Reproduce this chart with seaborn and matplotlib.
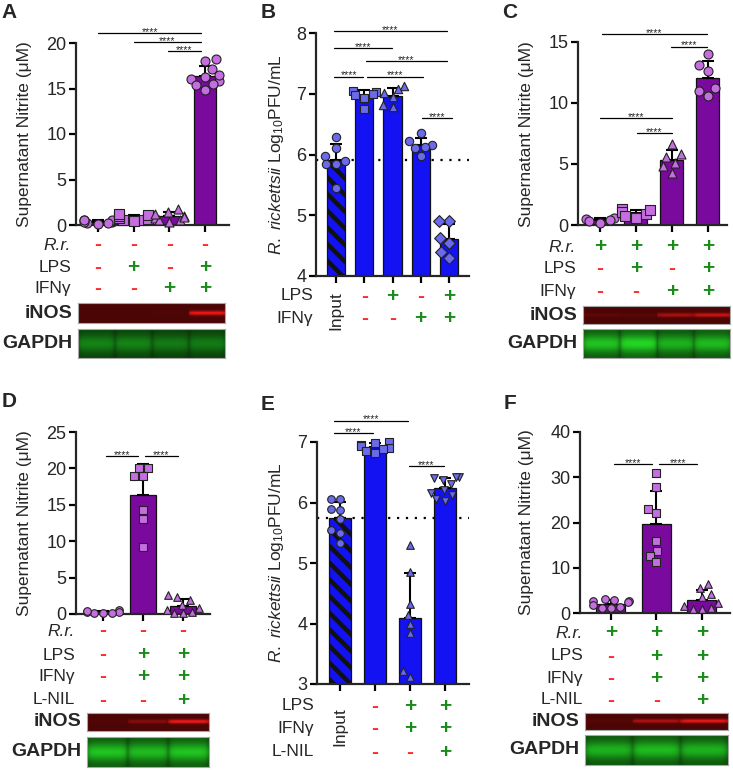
import numpy as np
import pandas as pd
import matplotlib
matplotlib.use('Agg')
import matplotlib.pyplot as plt
import matplotlib.transforms as mtransforms
import seaborn as sns

W, H = 733, 770

sns.set_style('ticks')
plt.rcParams['font.family'] = ['Liberation Sans', 'DejaVu Sans']
plt.rcParams['mathtext.fontset'] = 'custom'
plt.rcParams['mathtext.rm'] = 'Liberation Sans'
plt.rcParams['mathtext.it'] = 'Liberation Sans:italic'
plt.rcParams['hatch.linewidth'] = 3.2
plt.rcParams['axes.linewidth'] = 1.6

PURPLE = '#7a0a9e'
PURPLE_PT = '#c46ee0'
BLUE = '#1212f2'
BLUE_PT = '#6a6aea'
GREEN = '#1a8c1a'
RED = '#ff2a2a'

        # values

a_vals = [[0.2, 0.3, 0.5, 0.4, 0.6, 0.3, 0.1, 0.5, 0.2],
          [0.4, 0.6, 0.8, 1.0, 1.2, 0.9, 0.5, 0.7, 1.1],
          [0.3, 0.6, 1.0, 1.4, 1.8, 0.8, 0.5, 1.2, 0.9],
          [18.2, 18.0, 17.1, 16.3, 16.0, 15.8, 15.5, 15.4, 14.8, 16.5]]
a_marks = ['o', 's', '^', 'o']
a_rows = [('R.r.', '----'), ('LPS', '-+-+'), ('IFNγ', '--++')]
a_inos = [0.0, 0.0, 0.02, 0.95]
a_gapdh = [0.55, 0.55, 0.5, 0.5]
a_sig = [(0, 2.9, 21.1), (1, 2.9, 20.1), (1.95, 2.9, 19.1)]

b_vals = [[6.28, 6.1, 5.98, 5.9, 5.85, 5.85, 5.45],
          [7.05, 7.03, 7.0, 6.98, 6.93, 6.75],
          [7.12, 7.08, 7.02, 6.95, 6.82, 6.78],
          [6.35, 6.22, 6.15, 6.12, 6.1, 5.97],
          [4.9, 4.9, 4.62, 4.55, 4.4, 4.3]]
b_marks = ['o', 's', '^', 'o', 'D']
b_rows = [('LPS', ' -+-+'), ('IFNγ', ' --++')]
b_sig = [(-0.07, 3.93, 8.03), (-0.07, 1.98, 7.75), (1.06, 3.93, 7.54),
         (-0.07, 0.96, 7.28), (1.1, 3.08, 7.28), (3.04, 4.1, 6.6)]

c_vals = [[0.5, 0.3, 0.6, 0.2, 0.4],
          [0.6, 0.9, 1.2, 1.3, 1.1, 0.7],
          [6.6, 5.8, 5.6, 5.1, 4.8, 4.3],
          [14.0, 13.1, 12.6, 11.2, 11.0, 10.6]]
c_marks = ['o', 's', '^', 'o']
c_rows = [('R.r.', '++++'), ('LPS', '-+-+'), ('IFNγ', '--++')]
c_inos = [0.12, 0.08, 0.55, 0.75]
c_gapdh = [0.9, 1.0, 0.8, 0.85]
c_sig = [(0.06, 2.97, 15.66), (1.97, 2.97, 14.6), (0, 2.0, 8.77), (1.03, 2.0, 7.54)]

d_vals = [[0.1, 0.3, 0.5, 0.2, 0.4, 0.3, 0.2],
          [20.1, 19.0, 20.0, 18.9, 14.3, 13.0, 9.2],
          [2.6, 2.3, 1.9, 1.3, 0.8, 0.2, 0.1, 0.3, 0.5]]
d_marks = ['o', 's', '^']
d_rows = [('R.r.', '---'), ('LPS', '-++'), ('IFNγ', '-++'), ('L-NIL', '--+')]
d_inos = [0.04, 0.35, 0.95]
d_gapdh = [0.9, 0.85, 0.9]
d_sig = [(0.08, 0.88, 21.7), (1.05, 1.88, 21.7)]

e_vals = [[6.05, 6.05, 5.9, 5.88, 5.72, 5.55, 5.5, 5.33],
          [7.0, 6.98, 6.95, 6.93, 6.9, 6.88, 6.85, 6.82],
          [5.3, 4.85, 4.32, 4.14, 4.0, 3.84, 3.21, 3.11],
          [6.42, 6.42, 6.4, 6.38, 6.3, 6.2, 6.15, 6.05, 6.02, 6.12]]
e_marks = ['o', 's', '^', 'v']
e_rows = [('LPS', ' -++'), ('IFNγ', ' -++'), ('L-NIL', ' --+')]
e_sig = [(-0.17, 1.94, 7.35), (-0.17, 0.94, 7.15), (1.97, 2.97, 6.6)]

f_vals = [[3.0, 2.8, 2.7, 2.6, 2.4, 1.8, 1.3, 1.2, 1.0],
          [30.9, 27.9, 23.0, 22.2, 15.9, 13.8, 12.6, 11.3],
          [6.5, 5.5, 4.2, 3.6, 2.3, 1.5, 1.2, 0.9, 0.8]]
f_marks = ['o', 's', '^']
f_rows = [('R.r.', '+++'), ('LPS', '-++'), ('IFNγ', '-++'), ('L-NIL', '--+')]
f_inos = [0.06, 0.6, 0.95]
f_gapdh = [0.8, 0.85, 0.8]
f_sig = [(0.07, 0.9, 32.9), (1.05, 1.89, 32.9)]

nitrite_label = 'Supernatant Nitrite (μM)'
pfu_label = r'$\it{R.\ rickettsii}$ Log$_{10}$PFU/mL'


fig = plt.figure(figsize=(W / 100, H / 100), dpi=100)


def px_ax(l, t, r, b):
    return fig.add_axes([l / W, 1 - b / H, (r - l) / W, (b - t) / H])


def fig_y(y):
    return 1 - y / H


def bar_panel(box, vals, marks, bar_col, pt_col, xlim, ylim, yticks, msize):
    ax = px_ax(*box)
    n = len(vals)
    df = pd.DataFrame({'grp': np.repeat(np.arange(n), [len(v) for v in vals]),
                       'val': np.concatenate(vals)})
    sns.barplot(data=df, x='grp', y='val', order=list(range(n)), color=bar_col, saturation=1,
                errorbar=None, width=0.64, edgecolor='#111111', linewidth=0.9, ax=ax, zorder=1)
    stats = df.groupby('grp')['val'].agg(['mean', 'std'])
    ax.errorbar(stats.index, stats['mean'], yerr=[np.zeros(n), stats['std']], fmt='none',
                ecolor='black', elinewidth=1.5, capsize=4.5, capthick=1.5, zorder=2)
    for i, m in enumerate(marks):
        sns.swarmplot(data=df[df.grp == i], x='grp', y='val', order=list(range(n)), marker=m,
                      color=pt_col, size=msize, edgecolor='#222222', linewidth=0.8,
                      warn_thresh=1, ax=ax, zorder=3)
    for coll in ax.collections:
        coll.set_clip_on(False)
    ax.set_xlim(*xlim)
    ax.set_ylim(*ylim)
    ax.set_yticks(yticks)
    ax.set_xticks(range(n))
    ax.set_xticklabels([])
    ax.set_xlabel('')
    ax.set_ylabel('')
    sns.despine(ax=ax)
    ax.tick_params(axis='both', length=5, width=1.6, labelsize=13, pad=2, color='black')
    return ax, df


def sig(ax, pairs):
    for x0, x1, y in pairs:
        ax.plot([x0, x1], [y, y], color='black', lw=0.9, clip_on=False, zorder=4)
        ax.annotate('****', ((x0 + x1) / 2, y), xytext=(0, -1.2), textcoords='offset points',
                    ha='center', va='baseline', fontsize=7.5, annotation_clip=False)


def cond_rows(ax, rows, label_x, ys):
    tr = mtransforms.blended_transform_factory(ax.transData, fig.transFigure)
    for (name, signs), y in zip(rows, ys):
        fig.text(label_x / W, fig_y(y), name, ha='right', va='center', fontsize=12.5,
                 style='italic' if name == 'R.r.' else 'normal')
        for i, s in enumerate(signs):
            if s == ' ':
                continue
            ax.text(i, fig_y(y), s, transform=tr, ha='center', va='center', fontsize=15,
                    fontweight='bold', color=GREEN if s == '+' else RED)


def input_label(ax, y):
    tr = mtransforms.blended_transform_factory(ax.transData, fig.transFigure)
    ax.text(0, fig_y(y), 'Input', transform=tr, rotation=90, ha='center', va='center', fontsize=12.5)


def blot(box, lanes, channel, label, label_x):
    l, t, r, b = box
    ax = px_ax(*box)
    cols = np.linspace(-1, 1, 40)
    rows = np.linspace(-1, 1, 24)
    lane_shape = np.clip(1.0 - 0.35 * np.abs(cols) ** 8, 0, 1)
    if channel == 'red':
        band = np.exp(-(rows / 0.22) ** 2)
        base = np.array([0.3, 0.02, 0.02])
        tint = np.array([0.7, 0.08, 0.08])
    else:
        band = 0.35 + 0.65 * np.exp(-(rows / 0.6) ** 2)
        base = np.array([0.02, 0.12, 0.02])
        tint = np.array([0.12, 0.72, 0.12])
    inten = np.concatenate([lv * lane_shape for lv in lanes])
    glow = band[:, None] * inten[None, :]
    img = np.clip(base + glow[..., None] * tint, 0, 1)
    ax.imshow(img, aspect='auto', interpolation='bilinear')
    ax.set_xticks([])
    ax.set_yticks([])
    for s in ax.spines.values():
        s.set_color('#a8a8a8')
        s.set_linewidth(0.8)
    fig.text(label_x / W, fig_y((t + b) / 2), label, ha='right', va='center',
             fontsize=14, fontweight='bold')


def panel_letter(x, y, s):
    fig.text(x / W, fig_y(y), s, ha='center', va='center', fontsize=15, fontweight='bold')


def ylab(x, y, s):
    fig.text(x / W, fig_y(y), s, rotation=90, ha='center', va='center', fontsize=12.5)


        # A
axA, _ = bar_panel((76, 43, 229, 225), a_vals, a_marks, PURPLE, PURPLE_PT,
                   (-0.61, 3.67), (0, 20), range(0, 21, 5), 6.5)
sig(axA, a_sig)
cond_rows(axA, a_rows, 71, [245, 267, 289])
blot((78, 303, 225, 323), a_inos, 'red', 'iNOS', 72)
blot((78, 329, 225, 358), a_gapdh, 'green', 'GAPDH', 72)
panel_letter(9, 12, 'A')
ylab(25, 134, nitrite_label)

        # B
axB, dfB = bar_panel((316, 33, 469, 276), b_vals, b_marks, BLUE, BLUE_PT,
                     (-0.71, 4.71), (4, 8), range(4, 9), 6)
axB.patches[0].set_hatch('\\\\')
axB.axhline(np.mean(b_vals[0]), color='black', ls=(0, (1, 3)), lw=1.6, zorder=0.5)
sig(axB, b_sig)
cond_rows(axB, b_rows, 313, [296, 318])
input_label(axB, 311)
panel_letter(268, 12, 'B')
ylab(276, 155, pfu_label)

        # C
axC, _ = bar_panel((578, 42, 727, 225), c_vals, c_marks, PURPLE, PURPLE_PT,
                   (-0.61, 3.53), (0, 15), range(0, 16, 5), 6.5)
sig(axC, c_sig)
cond_rows(axC, c_rows, 576, [247, 269, 291])
blot((583, 306, 730, 324), c_inos, 'red', 'iNOS', 577)
blot((583, 329, 730, 358), c_gapdh, 'green', 'GAPDH', 577)
panel_letter(510, 12, 'C')
ylab(527, 134, nitrite_label)

        # D
axD, _ = bar_panel((76, 432, 210, 614), d_vals, d_marks, PURPLE, PURPLE_PT,
                   (-0.68, 2.68), (0, 25), range(0, 26, 5), 5.5)
sig(axD, d_sig)
cond_rows(axD, d_rows, 75, [631, 655, 677, 700])
blot((87, 713, 209, 731), d_inos, 'red', 'iNOS', 81)
blot((87, 737, 209, 767), d_gapdh, 'green', 'GAPDH', 81)
panel_letter(9, 402, 'D')
ylab(25, 523, nitrite_label)

        # E
axE, _ = bar_panel((317, 442, 469, 684), e_vals, e_marks, BLUE, BLUE_PT,
                   (-0.66, 3.69), (3, 7), range(3, 8), 5.5)
axE.patches[0].set_hatch('\\\\')
axE.axhline(np.mean(e_vals[0]), color='black', ls=(0, (1, 3)), lw=1.6, zorder=0.5)
sig(axE, e_sig)
cond_rows(axE, e_rows, 314, [706, 729, 752])
input_label(axE, 727)
panel_letter(268, 405, 'E')
ylab(276, 563, pfu_label)

        # F
axF, _ = bar_panel((580, 432, 730, 613), f_vals, f_marks, PURPLE, PURPLE_PT,
                   (-0.68, 2.62), (0, 40), range(0, 41, 10), 5.5)
sig(axF, f_sig)
cond_rows(axF, f_rows, 583, [633, 656, 678, 700])
blot((585, 713, 728, 730), f_inos, 'red', 'iNOS', 579)
blot((585, 735, 728, 765), f_gapdh, 'green', 'GAPDH', 579)
panel_letter(510, 404, 'F')
ylab(527, 522, nitrite_label)

fig.savefig('out.png', dpi=100)
